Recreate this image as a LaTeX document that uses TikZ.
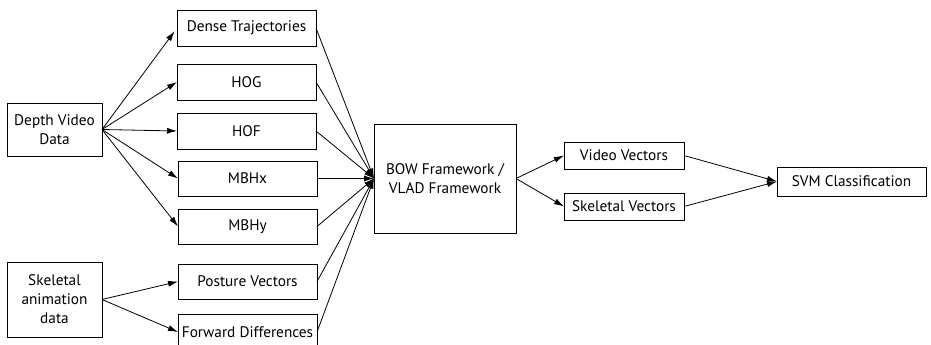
\documentclass[tikz,border=0pt]{standalone}
\usepackage{fontspec}
\setmainfont{PT Sans}
\usetikzlibrary{arrows.meta}
\tikzset{
  box/.style={draw=black, line width=0.8pt, inner sep=0pt, outer sep=0pt,
    align=center, font=\fontsize{15.3}{19}\selectfont},
  link/.style={draw=black, line width=0.8pt, -{Latex[length=10pt,width=6pt]}},
  join/.style={draw=black, line width=0.8pt}
}
% \bx{name}{x1}{y1}{x2}{y2}{text}
\newcommand{\bx}[6]{%
  \node[box, minimum width={(#4-#2)*1pt}, minimum height={(#5-#3)*1pt}]
    (#1) at ({(#2+#4)/2},{(#3+#5)/2}) {#6};}
\begin{document}
\begin{tikzpicture}[x=1pt, y=-1pt]
  \clip (0,0) rectangle (931,345);
  \useasboundingbox (0,0) rectangle (931,345);

  % sources
  \bx{depth}{7}{103}{102}{156}{Depth Video\\Data}
  \bx{skel}{7}{262}{102}{337}{Skeletal\\animation\\data}

  % descriptors
  \bx{dense}{177}{10}{316}{46}{Dense Trajectories}
  \bx{hog}{177}{64}{316}{100}{HOG}
  \bx{hof}{177}{113}{316}{149}{HOF}
  \bx{mbhx}{178}{161}{317}{196}{MBHx}
  \bx{mbhy}{178}{209}{317}{244}{MBHy}
  \bx{posture}{178}{264}{317}{299}{Posture Vectors}
  \bx{fwd}{178}{314}{317}{350}{Forward Differences}

  % encoding and classification
  \bx{bow}{374}{124}{516}{233}{BOW Framework /\\VLAD Framework}
  \bx{video}{564}{142}{684}{169}{Video Vectors}
  \bx{skelvec}{564}{193}{684}{220}{Skeletal Vectors}
  \bx{svm}{777}{167}{926}{196}{SVM Classification}

  % depth video to descriptors
  \draw[link, shorten >=4pt] (depth.east) -- (dense.west);
  \foreach \t in {hog,hof,mbhx,mbhy}
    \draw[link] (depth.east) -- (\t.west);

  % skeleton to descriptors
  \draw[link] (skel.east) -- (posture.west);
  \draw[link] (skel.east) -- (fwd.west);

  % descriptors into the encoder
  \foreach \s in {dense,hog,hof,mbhx,mbhy,posture,fwd}
    \draw[link] (\s.east) -- (bow.west);

  % encoder to vectors to classifier
  \draw[link] (bow.east) -- (video.west);
  \draw[link] (bow.east) -- (skelvec.west);
  \draw[link] (video.east) -- (svm.west);
  \draw[link] (skelvec.east) -- (svm.west);
\end{tikzpicture}
\end{document}
